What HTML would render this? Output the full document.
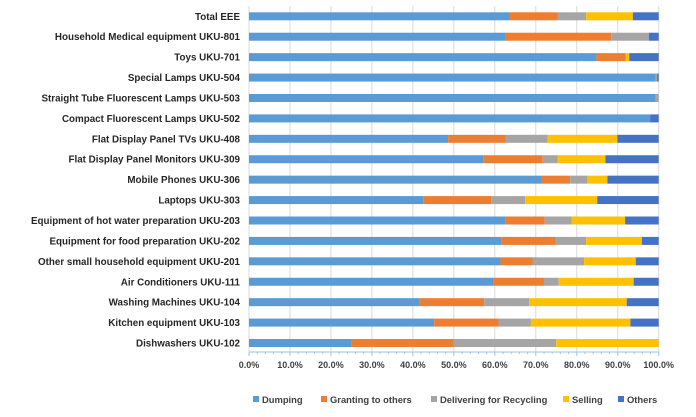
<!DOCTYPE html>
<html><head><meta charset="utf-8"><style>
html,body{margin:0;padding:0;background:#fff;width:696px;height:417px;overflow:hidden}
svg{display:block;font-family:"Liberation Sans",sans-serif}
</style></head><body>
<svg id="chart" width="696" height="417" viewBox="0 0 696 417"></svg>
<script>
const categories=["Total EEE","Household Medical equipment UKU-801","Toys UKU-701","Special Lamps UKU-504","Straight Tube Fluorescent Lamps UKU-503","Compact Fluorescent Lamps UKU-502","Flat Display Panel TVs UKU-408","Flat Display Panel Monitors UKU-309","Mobile Phones UKU-306","Laptops UKU-303","Equipment of hot water preparation UKU-203","Equipment for food preparation UKU-202","Other small household equipment UKU-201","Air Conditioners UKU-111","Washing Machines UKU-104","Kitchen equipment  UKU-103","Dishwashers UKU-102"];
const dumping=[63.7,62.7,84.8,99.3,99.3,97.9,48.6,57.2,71.4,42.5,62.5,61.7,61.4,59.7,41.7,45.2,25];
const granting=[11.6,25.7,7.1,0,0,0,14.1,14.5,7.0,16.6,9.7,13.2,7.8,12.3,15.7,15.7,25];
const recycling=[7.0,9.2,0,0.3,0.7,0,10.2,3.6,4.2,8.3,6.6,7.4,12.6,3.6,11.0,7.9,25];
const selling=[11.4,0,0.9,0,0,0,17.0,11.7,4.9,17.6,13.0,13.6,12.6,18.3,23.8,24.3,25];
const others=[6.3,2.4,7.2,0.4,0,2.1,10.1,13.0,12.5,15.0,8.2,4.1,5.6,6.1,7.8,6.9,0];
const seriesNames=["Dumping","Granting to others","Delivering for Recycling","Selling","Others"];
const tickLabels=["0.0%","10.0%","20.0%","30.0%","40.0%","50.0%","60.0%","70.0%","80.0%","90.0%","100.0%"];
const colors=["#5b9bd5","#ed7d31","#a5a5a5","#ffc000","#4472c4"];
const series=[dumping,granting,recycling,selling,others];
const NS="http://www.w3.org/2000/svg";
const svg=document.getElementById('chart');
const x0=249,x1=658.7,yTop=16.3,step=20.42,barH=8,axisY=352;
const xs=v=>x0+(x1-x0)*v/100;
const ys=i=>yTop+i*step;
function mk(t,a){const e=document.createElementNS(NS,t);for(const k in a)e.setAttribute(k,a[k]);svg.appendChild(e);return e;}
tickLabels.forEach((t,i)=>{
  const v=i*10;
  const g=mk('line',{x1:xs(v),x2:xs(v),y1:6,y2:axisY,stroke:'#d9d9d9','stroke-width':1});
  
  
  const l=mk('text',{x:xs(v),y:368,'text-anchor':'middle','font-size':9,'font-weight':'bold',fill:'#404040'});
  l.textContent=t;
  
  
});
const ax=mk('line',{x1:x0,x2:x1,y1:axisY,y2:axisY,stroke:'#9dc3e6','stroke-width':1});


for(let v=0;v<=100;v+=2){
  const tk=mk('line',{x1:xs(v),x2:xs(v),y1:axisY,y2:axisY+(v%10===0?4:2),stroke:'#9dc3e6','stroke-width':1});
  
  
}
categories.forEach((c,i)=>{
  const y=ys(i);
  const t=mk('text',{x:240,y:y+3.5,'text-anchor':'end','font-size':9.8,'font-weight':'bold',fill:'#262626'});
  t.textContent=c;
  
  
  let acc=0;
  series.forEach((s,k)=>{
    const v=s[i];
    if(v>0){
      const r=mk('rect',{x:xs(acc),y:y-barH/2,width:xs(acc+v)-xs(acc),height:barH,fill:colors[k]});
      
      
    }
    acc+=v;
  });
});
const legX=[253,321,431,563,618];
seriesNames.forEach((n,k)=>{
  const r=mk('rect',{x:legX[k],y:396,width:6,height:6,fill:colors[k]});
  
  
  const t=mk('text',{x:legX[k]+9,y:403,'font-size':9.4,'font-weight':'bold',fill:'#404040'});
  t.textContent=n;
  
  
});
</script>
</body></html>
